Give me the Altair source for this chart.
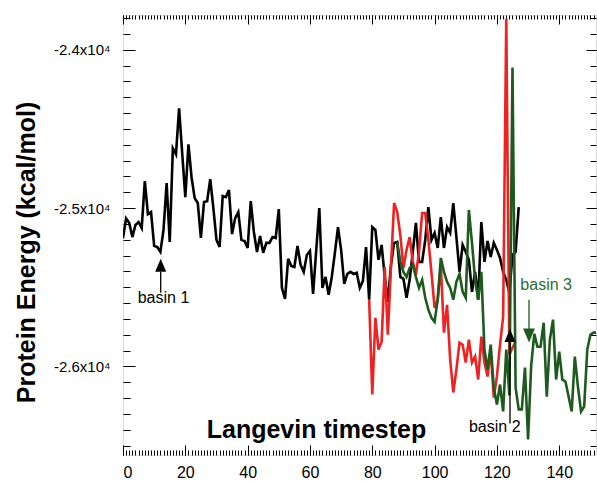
import altair as alt
import pandas as pd

# ---------------- data ----------------
black_start = 0
black_e = [-25190, -25065, -25094, -25183, -25107, -25088, -25126, -24830, -25038, -25025,
           -25239, -25246, -25277, -25138, -24842, -25214, -24622, -24660, -24370, -24653,
           -24931, -24597, -24805, -24937, -24968, -25189, -24962, -24956, -24817, -25000,
           -25201, -25246, -24924, -24931, -24886, -25164, -25063, -25025, -25201, -25208,
           -25252, -24956, -25151, -25277, -25176, -25283, -25220, -25220, -25183, -25189,
           -25006, -25504, -25573, -25321, -25365, -25372, -25239, -25359, -25403, -25296,
           -25271, -25542, -25271, -25000, -25504, -25435, -25548, -25435, -25283, -25120,
           -25264, -25479, -25416, -25403, -25416, -25409, -25504, -25460, -25246, -25579,
           -25120, -25138, -25327, -25233, -25435, -25592, -25359, -25220, -25214, -25435,
           -25447, -25567, -25453, -25277, -25094, -25340, -25340, -25201, -24994, -25201,
           -25157, -25252, -25057, -25252, -25120, -25157, -24968, -25183, -25403, -25233,
           -25277, -25327, -25529, -25403, -25579, -25088, -25340, -25208, -25309, -25220,
           -25264, -25315, -25403, -25453, -25535, -25296, -25277, -24994]

red_start = 79
red_e = [-25579, -26178, -25693, -25894, -25844, -25372, -25800, -25372, -24968, -25025,
         -25170, -25378, -25264, -25183, -25340, -25422, -25277, -25031, -25031, -25201,
         -25409, -25630, -25579, -25359, -25787, -25611, -25957, -26165, -26020, -25850,
         -25863, -25976, -25831, -25976, -25938, -26083, -25812, -25976, -26064, -25894,
         -26197, -26064, -25863, -25686, -23803, -25926, -25882, -25844]

green_start = 88
green_e = [-25214, -25340, -25403, -25435, -25378, -25359, -25435, -25504, -25453, -25567,
           -25642, -25693, -25718, -25579, -25315, -25403, -25466, -25504, -25579, -25466,
           -25416, -25529, -25567, -25012, -25220, -25453, -25579, -25403, -25894, -26020,
           -25863, -26134, -26241, -26115, -26285, -25894, -26184, -24112, -26134, -26272,
           -26272, -26008, -26461, -25995, -25794, -25876, -25876, -25724, -26191, -25831,
           -25705, -26083, -25907, -26083, -26096, -26191, -26285, -25938, -26128, -26285,
           -26254, -25894, -25800, -25787, -25787]

x_major = [0, 20, 40, 60, 80, 100, 120, 140]
x_minor = list(range(0, 152))
y_major = [-26000, -25000, -24000]
y_minor = list(range(-26500, -23700, 100))

# annotations
ann_text = ["basin 1", "basin 2", "basin 3"]
ann_t = [13.0, 119.3, 135.8]
ann_e = [-25598, -26417, -25516]
ann_color = ["#000000", "#000000", "#2a7030"]

shaft_t = [12.1, 124.2, 130.3]
shaft_top = [-25403, -25844, -25579]
shaft_bot = [-25535, -26361, -25768]
shaft_color = ["#000000", "#000000", "#1e5a1e"]

head_t = [12.1, 124.2, 130.3]
head_e = [-25361, -25805, -25805]
head_dir = ["up", "up", "down"]
head_color = ["#000000", "#000000", "#1e5a1e"]

W, H = 473, 440
xs = alt.Scale(domain=[0, 151.8], nice=False, zero=False)
ys = alt.Scale(domain=[-26560, -23780], nice=False, zero=False)
FONT = "Liberation Sans"


def line_layer(start, vals, color):
    df = pd.DataFrame({"t": list(range(start, start + len(vals))), "e": vals})
    return alt.Chart(df).mark_line(color=color, strokeWidth=2.6, clip=True).encode(
        x=alt.X("t:Q", scale=xs, axis=None),
        y=alt.Y("e:Q", scale=ys, axis=None),
    )


dummy = pd.DataFrame({"t": [0.0], "e": [-25000.0]})


def axis_layer(xaxis, yaxis):
    return alt.Chart(dummy).mark_point(opacity=0).encode(
        x=alt.X("t:Q", scale=xs, axis=xaxis),
        y=alt.Y("e:Q", scale=ys, axis=yaxis),
    )


def tick_axis(values, orient, offset, size):
    return alt.Axis(values=values, orient=orient, offset=offset, labels=False,
                    domain=False, grid=False, ticks=True, tickSize=size,
                    tickColor="black", tickWidth=1, title=None)


label_axes = axis_layer(
    alt.Axis(values=x_major, orient="bottom", ticks=False, domain=False, grid=False,
             labelFontSize=16, labelPadding=9, labelColor="black", labelFont=FONT,
             title="Langevin timestep", titleFontSize=25, titleFontWeight="bold",
             titleFont=FONT, titleColor="black", titleX=193, titleY=-18,
             titleAlign="center", titleBaseline="alphabetic"),
    alt.Axis(values=y_major, orient="left", ticks=False, domain=False, grid=False,
             labelFontSize=15, labelPadding=13, labelColor="black", labelFont=FONT,
             labelExpr="'-' + format(abs(datum.value)/10000, '.1f') + 'x10\u2074'",
             title="Protein Energy (kcal/mol)", titleFontSize=25, titleFontWeight="bold",
             titleFont=FONT, titleColor="black", titleAngle=270, titleX=-89, titleY=237,
             titleAlign="center", titleBaseline="alphabetic"),
)

# inward ticks on all four edges (major + minor)
ticks_bl_major = axis_layer(tick_axis(x_major, "top", -H, 10), tick_axis(y_major, "right", -W, 12))
ticks_bl_minor = axis_layer(tick_axis(x_minor, "top", -H, 5), tick_axis(y_minor, "right", -W, 7))
ticks_tr_major = axis_layer(tick_axis(x_major, "bottom", -H, 9), tick_axis(y_major, "left", -W, 10))
ticks_tr_minor = axis_layer(tick_axis(x_minor, "bottom", -H, 4), tick_axis(y_minor, "left", -W, 6))

black = line_layer(black_start, black_e, "#000000")
red = line_layer(red_start, red_e, "#ee2222")
green = line_layer(green_start, green_e, "#1e5a1e")

shaft_df = pd.DataFrame({"t": shaft_t, "e1": shaft_top, "e2": shaft_bot, "c": shaft_color})
shafts = alt.Chart(shaft_df).mark_rule(strokeWidth=1.3).encode(
    x=alt.X("t:Q", scale=xs, axis=None),
    y=alt.Y("e1:Q", scale=ys, axis=None),
    y2="e2:Q",
    color=alt.Color("c:N", scale=None),
)

head_df = pd.DataFrame({"t": head_t, "e": head_e, "d": head_dir, "c": head_color})
heads_up = alt.Chart(head_df[head_df.d == "up"]).mark_point(
    shape="M-0.85,1L0,-1L0.85,1Z", filled=True, size=169, opacity=1, strokeWidth=0
).encode(
    x=alt.X("t:Q", scale=xs, axis=None),
    y=alt.Y("e:Q", scale=ys, axis=None),
    color=alt.Color("c:N", scale=None),
)
heads_down = alt.Chart(head_df[head_df.d == "down"]).mark_point(
    shape="M-0.85,-1L0,1L0.85,-1Z", filled=True, size=196, opacity=1, strokeWidth=0
).encode(
    x=alt.X("t:Q", scale=xs, axis=None),
    y=alt.Y("e:Q", scale=ys, axis=None),
    color=alt.Color("c:N", scale=None),
)

ann_df = pd.DataFrame({"t": ann_t, "e": ann_e, "label": ann_text, "c": ann_color})
texts = alt.Chart(ann_df).mark_text(fontSize=16, font=FONT, align="center",
                                    baseline="alphabetic").encode(
    x=alt.X("t:Q", scale=xs, axis=None),
    y=alt.Y("e:Q", scale=ys, axis=None),
    text="label:N",
    color=alt.Color("c:N", scale=None),
)

chart = alt.layer(
    label_axes, ticks_bl_major, ticks_bl_minor, ticks_tr_major, ticks_tr_minor,
    black, red, green, shafts, heads_up, heads_down, texts,
).resolve_axis(
    x="independent", y="independent"
).properties(
    width=W, height=H,
    autosize=alt.AutoSizeParams(type="none"),
    padding={"left": 123, "top": 15, "right": 1, "bottom": 26},
    background="white",
).configure_view(
    stroke="black", strokeWidth=1.5
).configure(font=FONT)

chart.save("out.html", embed_options={"renderer": "svg", "actions": False})
